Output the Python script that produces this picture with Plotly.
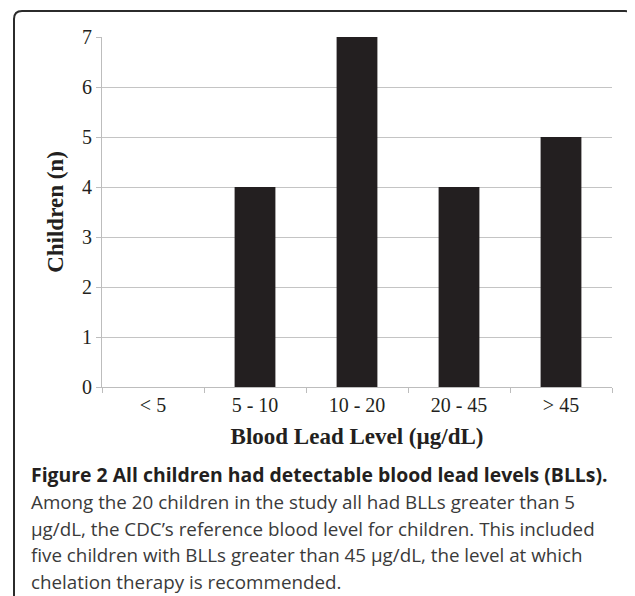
import plotly.graph_objects as go

categories = ["< 5", "5 - 10", "10 - 20", "20 - 45", "> 45"]
children = [0, 4, 7, 4, 5]
y_ticks = [0, 1, 2, 3, 4, 5, 6, 7]

caption_title = "Figure 2 All children had detectable blood lead levels (BLLs)."
caption_lines = [
    "Among the 20 children in the study all had BLLs greater than 5",
    "µg/dL, the CDC’s reference blood level for children. This included",
    "five children with BLLs greater than 45 µg/dL, the level at which",
    "chelation therapy is recommended.",
]

# page body adds an 8px margin; work in screen pixels and shift
OFF = 8
W, H = 635 - OFF, 596 - OFF
L, R, T, B = 102 - OFF, 23, 37 - OFF, 596 - 387
PW, PH = W - L - R, H - T - B


def px(x):
    return (x - OFF - L) / PW


def py(y):
    return (H - B - (y - OFF)) / PH


fig = go.Figure(go.Bar(
    x=categories, y=children,
    marker=dict(color="#231f20", line=dict(width=0)),
))

fig.update_layout(
    width=W, height=H,
    margin=dict(l=L, r=R, t=T, b=B),
    paper_bgcolor="white", plot_bgcolor="white",
    bargap=0.6, showlegend=False,
    font=dict(family="Liberation Serif", color="#231f20"),
)
fig.update_xaxes(
    showgrid=False, showline=True, linecolor="#bdbdbd", linewidth=1,
    ticks="outside", ticklen=5, tickcolor="#bdbdbd", tickson="boundaries",
    tickfont=dict(size=20, family="Liberation Serif", color="#231f20"),
    title=dict(text="<b>Blood Lead Level (µg/dL)</b>", standoff=12,
               font=dict(size=23, family="Liberation Serif", color="#231f20")),
)
fig.update_yaxes(
    range=[0, 7], tickvals=y_ticks, showgrid=True, gridcolor="#c4c4c4", gridwidth=1,
    showline=True, linecolor="#bdbdbd", linewidth=1, zeroline=False,
    ticks="outside", ticklen=5, tickcolor="#bdbdbd",
    tickfont=dict(size=20, family="Liberation Serif", color="#231f20"),
    title=dict(text="<b>Children (n)</b>", standoff=11,
               font=dict(size=23, family="Liberation Serif", color="#231f20")),
)

# Rounded border (left + top, with rounded corners)
r = 8
path = (f"M {px(14)} {py(600)} L {px(14)} {py(11 + r)} "
        f"Q {px(14)} {py(11)} {px(14 + r)} {py(11)} "
        f"L {px(633 - r)} {py(11)} Q {px(633)} {py(11)} {px(633)} {py(11 + r)} "
        f"L {px(633)} {py(24)}")
fig.add_shape(type="path", path=path, xref="paper", yref="paper",
              line=dict(color="#2b2b2b", width=2))

fig.add_annotation(
    text=f"<b>{caption_title}</b>", xref="paper", yref="paper",
    x=px(29), y=py(475), xanchor="left", yanchor="middle", showarrow=False,
    font=dict(family="Open Sans", size=19.4, color="#231f20"),
)
for i, line in enumerate(caption_lines):
    fig.add_annotation(
        text=line, xref="paper", yref="paper",
        x=px(29), y=py(502 + i * 26.7), xanchor="left", yanchor="middle", showarrow=False,
        font=dict(family="Open Sans", size=18.8, color="#3a3a3a"),
    )

fig.write_html("out.html")
